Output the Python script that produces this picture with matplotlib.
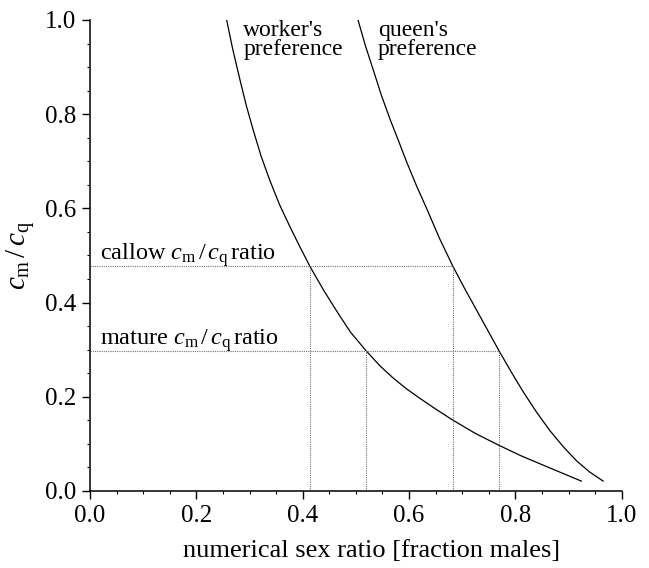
import numpy as np
import matplotlib.pyplot as plt
from matplotlib.ticker import MultipleLocator

plt.rcParams['font.family'] = ['Liberation Serif', 'DejaVu Serif']
plt.rcParams['mathtext.fontset'] = 'custom'
plt.rcParams['mathtext.rm'] = 'Liberation Serif'
plt.rcParams['mathtext.it'] = 'Liberation Serif:italic'

# values
worker_x = [0.257, 0.268, 0.282, 0.294, 0.307, 0.322, 0.338, 0.356, 0.376,
            0.394, 0.4135, 0.44, 0.465, 0.49, 0.519, 0.545, 0.57, 0.595,
            0.62, 0.65, 0.683, 0.725, 0.769, 0.81, 0.852, 0.89, 0.924]
worker_y = [1.00, 0.94, 0.873, 0.818, 0.766, 0.71, 0.66, 0.609, 0.561,
            0.52, 0.477, 0.425, 0.38, 0.337, 0.298, 0.266, 0.24, 0.217,
            0.197, 0.174, 0.15, 0.122, 0.097, 0.075, 0.055, 0.037, 0.021]
queen_x = [0.504, 0.518, 0.533, 0.548, 0.564, 0.58, 0.595, 0.614, 0.633,
           0.657, 0.682, 0.704, 0.727, 0.748, 0.769, 0.792, 0.815, 0.84,
           0.865, 0.89, 0.915, 0.94, 0.965]
queen_y = [1.00, 0.945, 0.893, 0.84, 0.79, 0.744, 0.70, 0.648, 0.60,
           0.537, 0.478, 0.431, 0.384, 0.341, 0.298, 0.253, 0.21, 0.167,
           0.128, 0.094, 0.064, 0.04, 0.021]

callow_ratio = 0.478
mature_ratio = 0.298
callow_x = [0.4135, 0.682]
mature_x = [0.519, 0.769]

fig = plt.figure(figsize=(6.49, 5.68), dpi=100)
ax = fig.add_axes([0.1387, 0.1356, 0.8193, 0.8292])

ax.plot(worker_x, worker_y, c='k', lw=0.9)
ax.plot(queen_x, queen_y, c='k', lw=0.9)

dot = dict(color='0.45', lw=0.8, ls=(0, (1, 1)))
ax.plot([0, callow_x[1]], [callow_ratio, callow_ratio], **dot)
ax.plot([0, mature_x[1]], [mature_ratio, mature_ratio], **dot)
for xv in callow_x:
    ax.plot([xv, xv], [0, callow_ratio], **dot)
for xv in mature_x:
    ax.plot([xv, xv], [0, mature_ratio], **dot)

ax.text(0.288, 1.0, "worker's\npreference", fontsize=17, va='top',
        linespacing=0.9)
ax.text(0.541, 1.0, "queen's\npreference", fontsize=17, va='top',
        linespacing=0.9)
ax.text(0.019, 0.49, r'callow $c_{\rm m}\,/\,c_{\rm q}\,$ratio', fontsize=17.5)
ax.text(0.019, 0.31, r'mature $c_{\rm m}\,/\,c_{\rm q}\,$ratio', fontsize=17.5)

ax.set_xlim(0, 1.0)
ax.set_ylim(0, 1.0)
ax.xaxis.set_major_locator(MultipleLocator(0.2))
ax.xaxis.set_minor_locator(MultipleLocator(0.05))
ax.yaxis.set_major_locator(MultipleLocator(0.2))
ax.yaxis.set_minor_locator(MultipleLocator(0.05))
ax.xaxis.set_major_formatter(lambda v, p: f'{v:.1f}')
ax.yaxis.set_major_formatter(lambda v, p: f'{v:.1f}')
ax.tick_params(which='major', length=6, width=1, labelsize=18, pad=4)
ax.tick_params(which='minor', length=2.5, width=0.8)

ax.spines['top'].set_visible(False)
ax.spines['right'].set_visible(False)
ax.spines['left'].set_linewidth(1.1)
ax.spines['bottom'].set_linewidth(1.1)

ax.set_xlabel('numerical sex ratio [fraction males]', fontsize=19)
ax.xaxis.set_label_coords(0.53, -0.105)
ax.set_ylabel(r'$c_{\rm m}\,/\,c_{\rm q}$', fontsize=21, labelpad=6)

fig.savefig('out.png', dpi=100)
